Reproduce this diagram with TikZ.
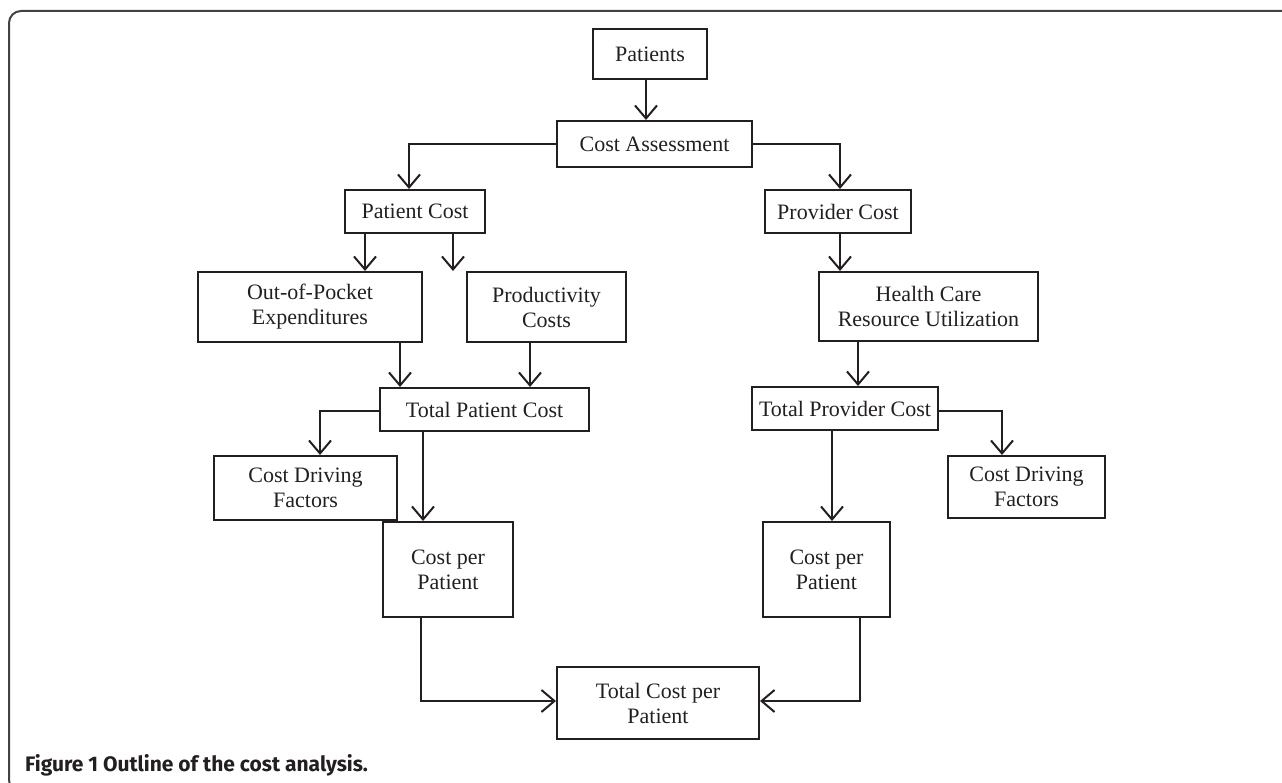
\documentclass[tikz,border=0pt]{standalone}
\usepackage{fontspec}
\setmainfont{Liberation Serif}
\newfontfamily\capfont{Fira Sans}
\usetikzlibrary{arrows.meta}
\definecolor{ink}{HTML}{231F20}
\tikzset{
  box/.style={draw=ink, line width=2pt, text=ink, align=center, inner sep=0pt,
              font=\fontsize{22}{25}\selectfont},
  arr/.style={draw=ink, line width=2pt, -{Straight Barb[length=13pt,width=22pt,line width=2pt]}},
  frame/.style={draw=ink!85, line width=2pt, rounded corners=12pt}
}
\begin{document}
\begin{tikzpicture}[x=1pt,y=-1pt]
\useasboundingbox (0,0) rectangle (1282,783);
\begin{scope}
\clip (0,0) rectangle (1282,783);
\draw[frame] (1300,11) -- (9,11) -- (9,792) -- (1300,792);
\end{scope}

\node[box, minimum width=114pt, minimum height=50pt] (patients) at (650,54) {Patients};
\node[box, minimum width=195pt, minimum height=46pt] (ca) at (654.5,144) {Cost Assessment};
\node[box, minimum width=140pt, minimum height=43pt] (pc) at (415,211.5) {Patient Cost};
\node[box, minimum width=146pt, minimum height=43pt] (prc) at (838,211.5) {Provider Cost};
\node[box, minimum width=224pt, minimum height=70pt] (oop) at (310,307) {Out-of-Pocket\\Expenditures};
\node[box, minimum width=159pt, minimum height=70pt] (prod) at (546.5,307) {Productivity\\Costs};
\node[box, minimum width=219pt, minimum height=69pt] (hc) at (928.5,306.5) {Health Care\\Resource Utilization};
\node[box, minimum width=209pt, minimum height=43pt] (tpc) at (484.5,409.5) {Total Patient Cost};
\node[box, minimum width=186pt, minimum height=43pt] (tprc) at (845,408.5) {Total Provider Cost};
\node[box, minimum width=183pt, minimum height=64pt] (cdfl) at (305.5,488) {Cost Driving\\Factors};
\node[box, minimum width=157pt, minimum height=62pt] (cdfr) at (1026.5,487) {Cost Driving\\Factors};
\node[box, minimum width=130pt, minimum height=95pt] (cppl) at (448,569.5) {Cost per\\Patient};
\node[box, minimum width=127pt, minimum height=95pt] (cppr) at (826.5,569.5) {Cost per\\Patient};
\node[box, minimum width=202pt, minimum height=72pt] (tcpp) at (658,703) {Total Cost per\\Patient};

\draw[arr] ([xshift=-4pt]patients.south) -- ([xshift=-8.5pt]ca.north);
\draw[arr] (ca.west) -| ([xshift=-6pt]pc.north);
\draw[arr] (ca.east) -| ([xshift=2pt]prc.north);
\draw[arr] ([xshift=-50pt]pc.south) -- ([xshift=55pt]oop.north);
\draw[arr] ([xshift=38pt]pc.south) -- ([xshift=-93.5pt]prod.north);
\draw[arr] ([xshift=90pt]oop.south) -- ([xshift=-84.5pt]tpc.north);
\draw[arr] ([xshift=-16.5pt]prod.south) -- ([xshift=45.5pt]tpc.north);
\draw[arr] ([xshift=2pt]prc.south) -- ([xshift=-88.5pt]hc.north);
\draw[arr] ([xshift=-70.5pt]hc.south) -- ([xshift=13pt]tprc.north);
\draw[arr] ([yshift=-1.5pt]tpc.west) -| ([xshift=14.5pt]cdfl.north);
\draw[arr] ([yshift=-2.5pt]tprc.east) -| ([xshift=-24.5pt]cdfr.north);
\draw[arr] ([xshift=-61.5pt]tpc.south) -- ([xshift=-25pt]cppl.north);
\draw[arr] ([xshift=-13pt]tprc.south) -- ([xshift=5.5pt]cppr.north);
\draw[arr] ([xshift=-27pt]cppl.south) |- ([yshift=2pt]tcpp.west);
\draw[arr] ([xshift=33.5pt]cppr.south) |- ([yshift=2pt]tcpp.east);

\node[anchor=base west, inner sep=0pt, text=ink, font=\capfont\bfseries\fontsize{21}{24}\selectfont] (cap) at (25,771) {Figure 1 Outline of the cost analysis.};
\end{tikzpicture}
\end{document}
